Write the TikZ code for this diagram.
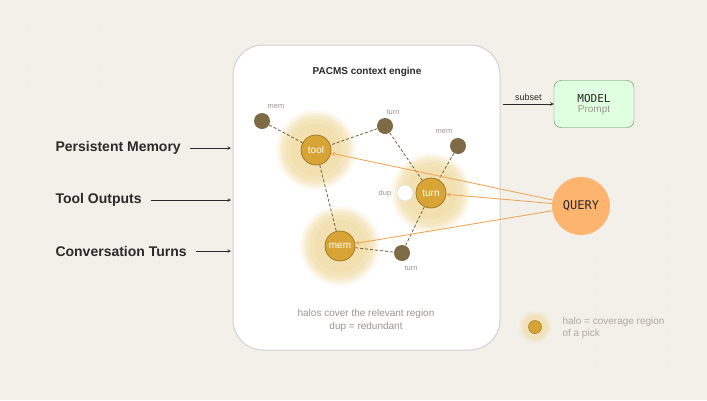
\documentclass[tikz,border=0pt]{standalone}
\usepackage{fontspec}
\setmainfont{Liberation Sans}
\setmonofont{DejaVu Sans Mono}
\pgfdeclarelayer{bgl}
\pgfdeclarelayer{edges}
\pgfsetlayers{bgl,edges,main}
\begin{document}
\definecolor{bg}{HTML}{F3F0E9}
\definecolor{gold}{HTML}{D9A436}
\definecolor{goldd}{HTML}{9A7420}
\definecolor{dark}{HTML}{7E6A45}
\definecolor{halo}{HTML}{F1DA9C}
\definecolor{qor}{HTML}{FDB46E}
\definecolor{arr}{HTML}{EEA85E}
\definecolor{txt}{HTML}{2A2A2A}
\definecolor{grey}{HTML}{9A958C}
\begin{tikzpicture}[x=1pt,y=-1pt,
  pick/.style={circle,fill=gold,draw=goldd,line width=0.7pt,minimum size=30pt,inner sep=0,text=white,font=\fontsize{10}{11}\selectfont},
  small/.style={circle,fill=dark,minimum size=16pt,inner sep=0},
  lab/.style={font=\fontsize{7.5}{8}\selectfont,text=grey},
  dsh/.style={densely dashed,draw=dark!90!black,line width=0.8pt},
  qa/.style={draw=arr,line width=0.9pt,->,>=stealth},
  side/.style={font=\bfseries\fontsize{14}{16}\selectfont,text=txt},
  sa/.style={draw=txt,line width=0.6pt,->,>=stealth}]
\begin{pgfonlayer}{bgl}
\fill[bg] (0,0) rectangle (707,400);
\foreach \x in {10,28,...,110}\foreach \y in {30,48,...,90}\fill[black!10] (\x,\y) circle (0.6);
\foreach \x in {560,578,...,700}\foreach \y in {185,203,...,370}\fill[black!10] (\x,\y) circle (0.6);
\draw[fill=white,draw=black!18,line width=1pt,rounded corners=30] (233,45) rectangle (500,350);
\foreach \p in {(316,150),(431,193),(340,246)}{
  \foreach \r/\o in {40/0.12,38/0.15,36/0.2,34/0.25,31/0.3,26/0.3}\fill[halo,opacity=\o] \p circle (\r);}
\end{pgfonlayer}
\useasboundingbox (0,0) rectangle (707,400);
\node[font=\bfseries\fontsize{10}{12}\selectfont,text=txt] (title) at (367,72) {PACMS context engine};
\node[small] (m1) at (262,121) {};
\node[small] (t1) at (385,126) {};
\node[small] (m2) at (458,146) {};
\node[small] (t2) at (402,253) {};
\node[circle,fill=white,draw=black!15,minimum size=16pt,inner sep=0] (dup) at (405,193) {};
\node[pick] (tool) at (316,150) {tool};
\node[pick] (turn) at (431,193) {turn};
\node[pick] (mem) at (340,246) {mem};
\begin{pgfonlayer}{edges}
\draw[dsh] (m1) -- (tool); \draw[dsh] (t1) -- (tool); \draw[dsh] (tool) -- (mem);
\draw[dsh] (t1) -- (turn); \draw[dsh] (m2) -- (turn); \draw[dsh] (turn) -- (t2); \draw[dsh] (mem) -- (t2);
\end{pgfonlayer}
\node[lab] (l1) at (276,107) {mem};
\node[lab] (l2) at (393,112) {turn};
\node[lab] (l3) at (444,132) {mem};
\node[lab] (l4) at (411,268) {turn};
\node[lab] (l5) at (385,194) {dup};
\node[circle,fill=qor,minimum size=58pt,inner sep=0,font=\ttfamily\fontsize{12}{14}\selectfont,text=txt] (q) at (581,206) {QUERY};
\draw[qa] (q) -- (tool); \draw[qa] (q) -- (turn); \draw[qa] (q) -- (mem);
\node[draw=black!45!green!40!gray,fill=green!12,rounded corners=7,minimum width=80pt,minimum height=47pt,align=center,inner sep=0] (model) at (594,104)
  {{\ttfamily\fontsize{11}{13}\selectfont\color{txt}MODEL}\\[-2pt]{\fontsize{10}{12}\selectfont\color{grey}Prompt}};
\coordinate (s0) at (503,104);
\draw[sa] (s0) -- (model.west) node[midway,above,font=\fontsize{9}{10}\selectfont,text=txt] {subset};
\node[side,anchor=west] (pm) at (52,148) {Persistent Memory};
\node[side,anchor=west] (to) at (52,200) {Tool Outputs};
\node[side,anchor=west] (ct) at (52,251) {Conversation Turns};
\coordinate (e1) at (231,148); \coordinate (e2) at (231,200); \coordinate (e3) at (231,251);
\draw[sa] ([xshift=6pt]pm.east) -- (e1);
\draw[sa] ([xshift=6pt]to.east) -- (e2);
\draw[sa] ([xshift=6pt]ct.east) -- (e3);
\node[align=center,font=\fontsize{10}{13}\selectfont,text=grey] (note) at (366,320) {halos cover the relevant region\\dup = redundant};
\begin{pgfonlayer}{bgl}
\foreach \r/\o in {16/0.15,14/0.25,12/0.35}\fill[halo,opacity=\o] (535,327) circle (\r);
\end{pgfonlayer}
\node[circle,fill=gold,draw=goldd,line width=0.5pt,minimum size=13pt,inner sep=0] (lg) at (535,327) {};
\node[anchor=west,align=left,font=\fontsize{10}{12}\selectfont,text=grey!80] (lgt) at (559,328) {halo = coverage region\\of a pick};
\end{tikzpicture}
\end{document}
